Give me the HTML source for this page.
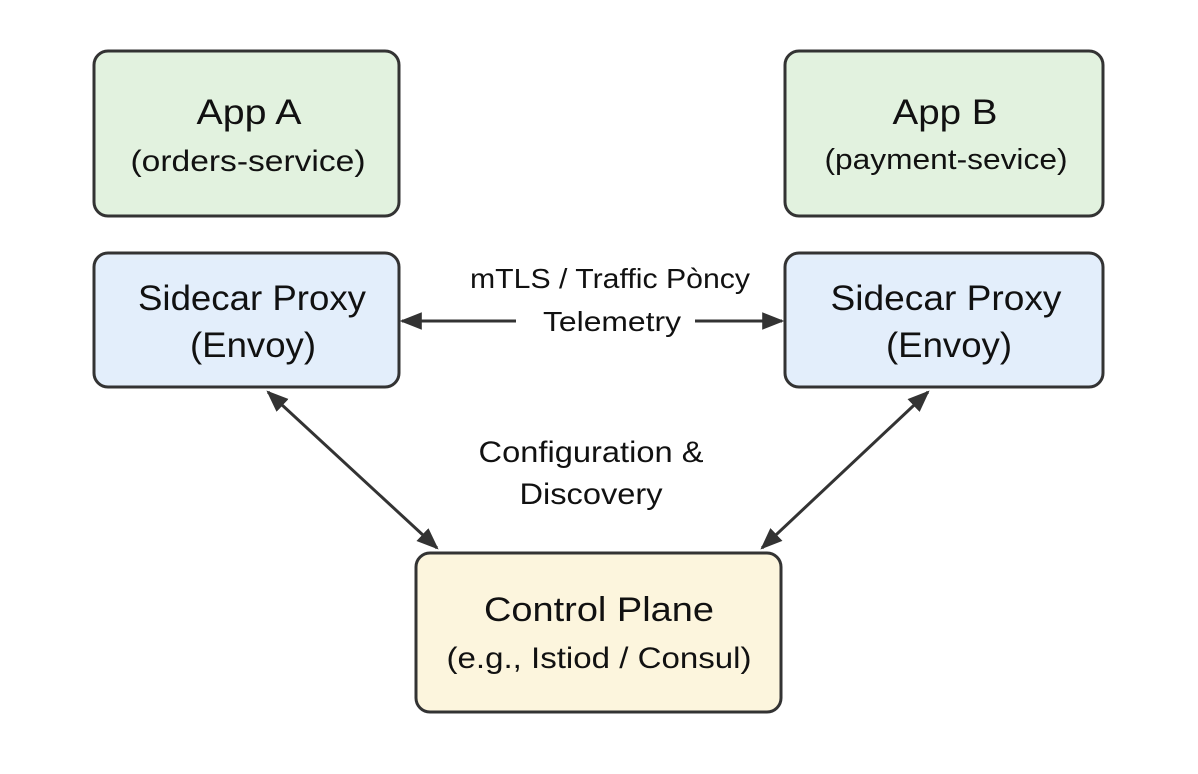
<!DOCTYPE html>
<html><head><meta charset="utf-8"><style>
body{margin:0;width:1198px;height:774px;background:#fff;overflow:hidden}
svg{display:block}
text{font-family:"Liberation Sans",sans-serif;fill:#111;text-anchor:middle}
</style></head><body>
<svg width="1198" height="774" viewBox="0 0 1198 774">
<defs>
<marker id="b" viewBox="0 0 10 10" refX="9" refY="5" markerWidth="22" markerHeight="22" orient="auto-start-reverse" markerUnits="userSpaceOnUse"><path d="M0,1L10,5L0,9z" fill="#333"/></marker></defs>
<g stroke="#333" stroke-width="3">
<rect x="94" y="51" width="305" height="165" rx="14" fill="#e2f2df"/>
<rect x="785" y="51" width="318" height="165" rx="14" fill="#e2f2df"/>
<rect x="94" y="253" width="305" height="134" rx="14" fill="#e3eefb"/>
<rect x="785" y="253" width="318" height="134" rx="14" fill="#e3eefb"/>
<rect x="416" y="553" width="365" height="159" rx="14" fill="#fcf5dd"/>
</g>
<g stroke="#333" stroke-width="3" fill="none">
<line x1="516" y1="321" x2="402" y2="321" marker-end="url(#b)"/>
<line x1="695" y1="321" x2="782" y2="321" marker-end="url(#b)"/>
<line x1="268" y1="392" x2="437" y2="548" marker-start="url(#b)" marker-end="url(#b)"/>
<line x1="928" y1="392" x2="762" y2="548" marker-start="url(#b)" marker-end="url(#b)"/>
</g>
<g>
<text x="249" y="124" font-size="35" textLength="105" lengthAdjust="spacingAndGlyphs">App A</text>
<text x="248" y="171" font-size="30" textLength="235" lengthAdjust="spacingAndGlyphs">(orders-service)</text>
<text x="945" y="124" font-size="35" textLength="105" lengthAdjust="spacingAndGlyphs">App B</text>
<text x="946" y="169" font-size="29" textLength="243" lengthAdjust="spacingAndGlyphs">(payment-sevice)</text>
<text x="252" y="310" font-size="35" textLength="228" lengthAdjust="spacingAndGlyphs">Sidecar Proxy</text>
<text x="253" y="357" font-size="35" textLength="126" lengthAdjust="spacingAndGlyphs">(Envoy)</text>
<text x="946" y="310" font-size="35" textLength="231" lengthAdjust="spacingAndGlyphs">Sidecar Proxy</text>
<text x="949" y="357" font-size="35" textLength="126" lengthAdjust="spacingAndGlyphs">(Envoy)</text>
<text x="610" y="288" font-size="28" textLength="280" lengthAdjust="spacingAndGlyphs">mTLS / Traffic Pòncy</text>
<text x="612" y="331" font-size="28" textLength="138" lengthAdjust="spacingAndGlyphs">Telemetry</text>
<text x="591" y="462" font-size="30" textLength="225" lengthAdjust="spacingAndGlyphs">Configuration &amp;</text>
<text x="591" y="504" font-size="30" textLength="143" lengthAdjust="spacingAndGlyphs">Discovery</text>
<text x="599" y="621" font-size="34" textLength="230" lengthAdjust="spacingAndGlyphs">Control Plane</text>
<text x="599" y="668" font-size="30" textLength="305" lengthAdjust="spacingAndGlyphs">(e.g., Istiod / Consul)</text>
</g>
</svg>
</body></html>
